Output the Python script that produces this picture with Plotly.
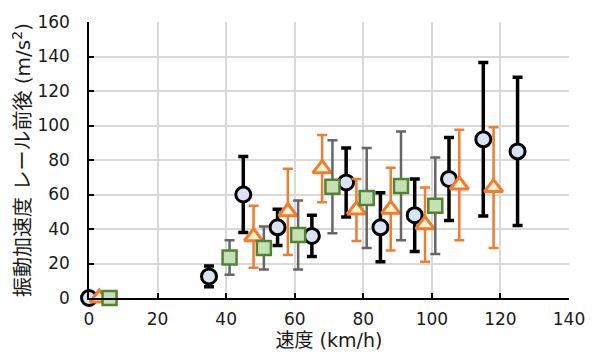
import plotly.graph_objects as go

# Speed (km/h) and rail longitudinal vibration acceleration (m/s^2), mean ± error
speed_a = [0, 35, 45, 55, 65, 75, 85, 95, 105, 115, 125]
acc_a = [0, 12.5, 60, 41, 36, 67, 41, 48, 69, 92, 85]
err_a = [0, 6, 22, 10.5, 12, 20, 20, 21, 24, 44.5, 43]

speed_b = [3, 48, 58, 68, 78, 88, 98, 108, 118]
acc_b = [0, 35.5, 50, 75, 51, 51.5, 42.5, 65.5, 64]
err_b = [0, 18, 25, 19.5, 18, 24, 21.5, 32, 35]

speed_c = [6, 41, 51, 61, 71, 81, 91, 101]
acc_c = [0, 23.5, 29, 36.5, 64.5, 58, 65, 53.5]
err_c = [0, 10, 12.5, 20, 27, 29, 31.5, 28]

x_ticks = [0, 20, 40, 60, 80, 100, 120, 140]
y_ticks = [0, 20, 40, 60, 80, 100, 120, 140, 160]

FONT = "DejaVu Sans, Noto Sans CJK JP, sans-serif"

fig = go.Figure()

fig.add_trace(go.Scatter(
    x=speed_a, y=acc_a, mode="markers", cliponaxis=False,
    marker=dict(symbol="circle", size=15, color="#dae3f3",
                line=dict(color="#000000", width=3)),
    error_y=dict(type="data", array=err_a, color="#000000", thickness=3.5, width=5),
))
fig.add_trace(go.Scatter(
    x=speed_b, y=acc_b, mode="markers", cliponaxis=False,
    marker=dict(symbol="triangle-up", size=16, color="#fff2cc",
                line=dict(color="#ed7d31", width=3)),
    error_y=dict(type="data", array=err_b, color="#ed7d31", thickness=2.5, width=5),
))
fig.add_trace(go.Scatter(
    x=speed_c, y=acc_c, mode="markers", cliponaxis=False,
    marker=dict(symbol="square", size=14, color="#c5e0b4",
                line=dict(color="#548235", width=2.5)),
    error_y=dict(type="data", array=err_c, color="#666666", thickness=2.5, width=5),
))

fig.update_layout(
    width=597, height=362,
    margin=dict(l=89, r=26, t=14, b=64),
    paper_bgcolor="white", plot_bgcolor="white",
    showlegend=False,
    font=dict(family=FONT, size=17, color="#1a1a1a"),
)
fig.update_xaxes(
    range=[0, 140], tickvals=x_ticks, ticktext=[str(v) for v in x_ticks],
    showgrid=True, gridcolor="#d9d9d9", gridwidth=1.5,
    showline=True, linecolor="#000000", linewidth=1.5,
    ticks="inside", ticklen=5, tickcolor="#000000", tickwidth=1.5,
    ticklabelstandoff=5,
    zeroline=False, mirror=False,
    title=dict(text="速度 (km/h)", font=dict(size=19), standoff=4),
    tickfont=dict(size=17),
)
fig.update_yaxes(
    range=[0, 160], tickvals=y_ticks, ticktext=[str(v) for v in y_ticks],
    showgrid=True, gridcolor="#d9d9d9", gridwidth=1.5,
    showline=True, linecolor="#000000", linewidth=1.5,
    ticks="inside", ticklen=5, tickcolor="#000000", tickwidth=1.5,
    ticklabelstandoff=14,
    zeroline=False,
    title=dict(text="振動加速度 レール前後 (m/s<sup>2</sup>)",
               font=dict(size=20), standoff=1),
    tickfont=dict(size=17),
)

fig.write_html("out.html")
